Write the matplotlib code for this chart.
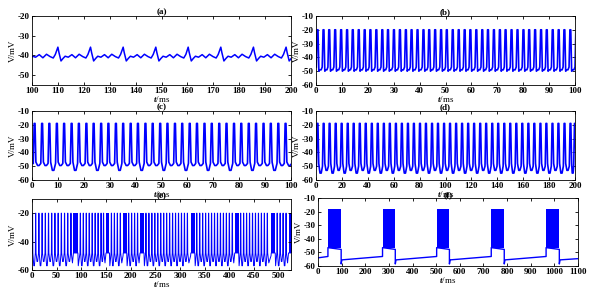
import matplotlib
matplotlib.use("Agg")
from matplotlib import pyplot as plt

plt.rcParams['font.family'] = ['Liberation Serif', 'DejaVu Serif']
plt.rcParams['font.weight'] = 'bold'
plt.rcParams['font.size'] = 6.5
plt.rcParams['axes.unicode_minus'] = False
plt.rcParams['mathtext.fontset'] = 'custom'
plt.rcParams['mathtext.it'] = 'Liberation Serif:italic:bold'
plt.rcParams['mathtext.rm'] = 'Liberation Serif:bold'

BLUE = '#0000ff'

# ---- (a) subthreshold oscillation, one template per cycle ----
A_SPIKES = [97.4, 110.0, 122.6, 135.2, 147.8, 160.3, 172.9, 185.5, 198.1]
A_SHAPE_T = [0.0, 0.4, 1.2, 2.0, 2.8, 4.0, 5.4, 6.8, 8.2, 9.6, 10.8, 11.6]
A_SHAPE_V = [-35.8, -38.5, -42.8, -41.5, -40.4, -40.9, -39.6, -41.2, -39.4, -40.6, -41.3, -39.5]

# ---- (b) regular tonic spiking ----
B_SPIKES = [0.6, 2.9, 5.1, 7.4, 9.7, 12.0, 14.2, 16.5, 18.8, 21.0, 23.3, 25.6, 27.8,
            30.1, 32.4, 34.7, 36.9, 39.2, 41.5, 43.7, 46.0, 48.3, 50.5, 52.8, 55.1,
            57.4, 59.6, 61.9, 64.2, 66.4, 68.7, 71.0, 73.2, 75.5, 77.8, 80.1, 82.3,
            84.6, 86.9, 89.1, 91.4, 93.7, 95.9, 98.2, 100.5]
B_TOP, B_DROP, B_RISE = -20.0, -50.0, -47.0
B_TROUGHS = [-49.0]

# ---- (c) ----
C_SPIKES = [1.0, 3.9, 6.7, 9.6, 12.4, 15.3, 18.1, 21.0, 23.8, 26.7, 29.5, 32.4,
            35.2, 38.1, 40.9, 43.8, 46.6, 49.5, 52.3, 55.2, 58.0, 60.9, 63.7, 66.6,
            69.4, 72.3, 75.1, 78.0, 80.8, 83.7, 86.5, 89.4, 92.2, 95.1, 97.9, 100.8]
C_TOP, C_DROP, C_RISE = -19.0, -47.0, -48.0
C_TROUGHS = [-49.5, -49.5, -53.0]

# ---- (d) ----
D_SPIKES = [1.2, 5.9, 10.5, 15.2, 19.8, 24.5, 29.1, 33.8, 38.4, 43.1, 47.7, 52.4,
            57.0, 61.7, 66.3, 71.0, 75.6, 80.3, 84.9, 89.6, 94.2, 98.9, 103.5, 108.2,
            112.8, 117.5, 122.1, 126.8, 131.4, 136.1, 140.7, 145.4, 150.0, 154.7,
            159.3, 164.0, 168.6, 173.3, 177.9, 182.6, 187.2, 191.9, 196.5, 199.9]
D_TOP, D_DROP, D_RISE = -19.0, -48.0, -50.0
D_TROUGHS = [-55.0, -53.0]

# ---- (e) sparse spikes between dense bursts ----
E_SEGMENTS = [
    [1.0, 7.5, 14.0, 20.5, 27.0, 33.5, 40.0, 46.5, 53.0, 59.5, 66.0, 72.5, 79.0],
    [98.0, 104.0, 110.0, 116.0, 122.0, 128.0, 134.0, 140.0, 145.0],
    [161.0, 167.0, 173.0, 179.0],
    [196.0, 202.0, 208.0, 214.0],
    [231.0, 237.0, 243.0, 249.0, 255.0, 261.0, 267.0, 273.0, 279.0, 285.0, 291.0,
     297.0, 303.0, 309.0, 315.0],
    [334.0, 340.0, 346.0, 352.0, 358.0, 364.0, 370.0, 376.0, 382.0, 388.0, 394.0,
     400.0, 406.0],
    [423.0, 429.0, 435.0, 441.0, 447.0, 453.0, 459.0, 465.0, 471.0, 477.0],
    [497.0, 503.0, 509.0, 515.0],
]
E_BURSTS = [(84, 93), (150, 157), (185, 192), (219, 227), (322, 330),
            (411, 419), (485, 493), (520, 528)]
E_TOP, E_BASE, E_QUIET = -20.0, -48.0, -55.0
E_TROUGHS = [-57.0, -54.0]

# ---- (f) square-wave bursting ----
F_BURSTS = [(42, 98), (273, 327), (502, 556), (733, 788), (965, 1021)]
F_TOP = -18.0
F_PLATEAU = (-46.5, -47.8)
F_START, F_PRE, F_DIP, F_POST, F_END = -54.0, -53.0, -58.5, -55.5, -54.6


def spike_trace(spikes, top, drop, troughs, rise, width):
    t, v = [], []
    for i, s in enumerate(spikes):
        t += [s - width / 2, s - width / 6, s + width / 6, s + width / 2]
        v += [rise, top, top, drop]
        if i < len(spikes) - 1:
            gap = spikes[i + 1] - s
            t += [s + 0.4 * gap, s + 0.6 * gap]
            v += [troughs[i % len(troughs)]] * 2
    return t, v


def style(ax, xlim, xticks, ylim, yticks, title, title_pad=1.0):
    ax.set_xlim(xlim)
    ax.set_xticks(xticks)
    ax.set_ylim(ylim)
    ax.set_yticks(yticks)
    ax.set_title(title, fontsize=6.5, fontweight='bold', pad=title_pad)
    ax.set_xlabel('$t$/ms', labelpad=-1)
    ax.set_ylabel('V/mV', labelpad=1)
    ax.tick_params(direction='in', top=True, right=True, length=2.5, width=0.6,
                   pad=1.5, labelsize=6.5)
    for sp in ax.spines.values():
        sp.set_linewidth(0.6)


W, H = 590, 293
fig = plt.figure(figsize=(W / 100, H / 100), dpi=100)


def add_axes(left, right, top, bottom):
    return fig.add_axes([left / W, 1 - bottom / H, (right - left) / W, (bottom - top) / H])


# (a)
ax = add_axes(32, 291, 16, 85)
ta, va = [], []
for s in A_SPIKES:
    ta += [s + d for d in A_SHAPE_T]
    va += A_SHAPE_V
ax.plot(ta, va, color=BLUE, lw=1.1)
style(ax, (100, 200), range(100, 201, 10), (-55, -20), range(-50, -19, 10), '(a)')

# (b)
ax = add_axes(316, 575, 16, 85)
t, v = spike_trace(B_SPIKES, B_TOP, B_DROP, B_TROUGHS, B_RISE, 1.0)
ax.plot(t, v, color=BLUE, lw=1.2)
style(ax, (0, 100), range(0, 101, 10), (-60, -10), range(-60, -9, 10), '(b)')

# (c)
ax = add_axes(32, 291, 111, 180)
t, v = spike_trace(C_SPIKES, C_TOP, C_DROP, C_TROUGHS, C_RISE, 1.0)
ax.plot(t, v, color=BLUE, lw=1.2)
style(ax, (0, 100), range(0, 101, 10), (-60, -10), range(-60, -9, 10), '(c)')

# (d)
ax = add_axes(316, 575, 111, 180)
t, v = spike_trace(D_SPIKES, D_TOP, D_DROP, D_TROUGHS, D_RISE, 1.8)
ax.plot(t, v, color=BLUE, lw=1.2)
style(ax, (0, 200), range(0, 201, 20), (-60, -10), range(-60, -9, 10), '(d)')

# (e)
ax = add_axes(32, 291, 199, 270)
t, v = [], []
for seg, (bs, be) in zip(E_SEGMENTS, E_BURSTS):
    st, sv = spike_trace(seg, E_TOP, E_BASE, E_TROUGHS, E_BASE, 1.4)
    t += st + [seg[-1] + 3, bs - 0.5, bs, be, be + 0.8]
    v += sv + [E_QUIET, -50.0, E_BASE, E_BASE, E_TROUGHS[0]]
    ax.fill_between([bs, be], E_BASE, E_TOP, color=BLUE, lw=0)
ax.plot(t, v, color=BLUE, lw=0.7)
style(ax, (0, 525), range(0, 501, 50), (-60, -10), [-60, -40, -20], '(e)', 0.3)

# (f)
ax = add_axes(318, 578, 198, 266)
t, v = [0.0], [F_START]
for bs, be in F_BURSTS:
    t += [bs, bs, be, be, be + 3]
    v += [F_PRE, F_PLATEAU[0], F_PLATEAU[1], F_DIP, F_POST]
    ax.fill_between([bs, be], F_PLATEAU[0] - 0.5, F_TOP, color=BLUE, lw=0)
t.append(1100.0)
v.append(F_END)
ax.plot(t, v, color=BLUE, lw=1.0)
style(ax, (0, 1100), range(0, 1101, 100), (-60, -10), range(-60, -9, 10), '(f)', 0.3)

fig.savefig('out.png', dpi=100)
